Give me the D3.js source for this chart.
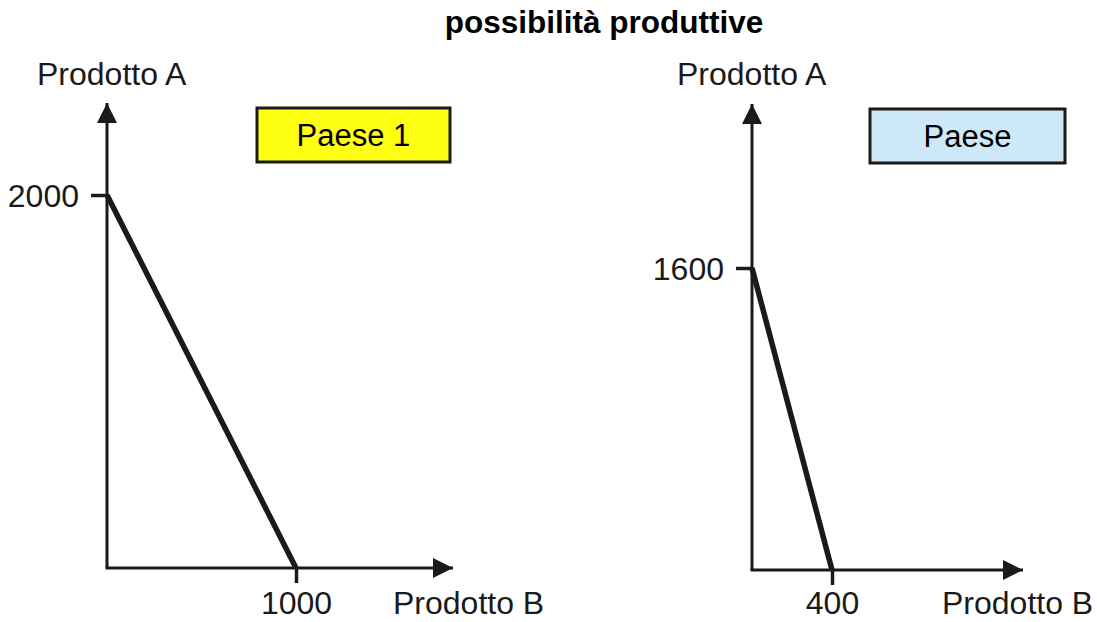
<!DOCTYPE html>
<html>
<head>
<meta charset="utf-8">
<script src="https://cdn.jsdelivr.net/npm/d3@7"></script>
<style>
  body { margin: 0; background: #fff; }
  svg { font-family: "Liberation Sans", Arial, sans-serif; }
</style>
</head>
<body>
<svg id="chart" width="1097" height="622"></svg>
<script>
// chart data
const title = "possibilità produttive";
const countries = ["Paese 1", "Paese"];
const maxA = [2000, 1600];   // intercept on Prodotto A axis
const maxB = [1000, 400];    // intercept on Prodotto B axis
const yLabel = "Prodotto A";
const xLabel = "Prodotto B";
const boxColors = ["#ffff14", "#cde8f8"];

const svg = d3.select("#chart");

svg.append("text")
  .attr("x", 604)
  .attr("y", 33)
  .attr("text-anchor", "middle")
  .attr("font-weight", "bold")
  .attr("font-size", 31.5)
  .text(title);

// layout per panel
const layout = [
  { x0: 107, y0: 568, xEnd: 453, yTop: 103, xPx: 189, yPx: 373, box: [257, 108, 193, 54], yLab: 37, xLab: 393 },
  { x0: 752, y0: 570, xEnd: 1023, yTop: 104, xPx: 80, yPx: 302, box: [870, 109, 195, 54], yLab: 677, xLab: 942 }
];
const bottomBaseline = 614;

svg.append("defs").append("marker")
  .attr("id", "arrow")
  .attr("viewBox", "0 0 10 10")
  .attr("refX", 10).attr("refY", 5)
  .attr("markerWidth", 20).attr("markerHeight", 20)
  .attr("markerUnits", "userSpaceOnUse")
  .attr("orient", "auto")
  .append("path")
  .attr("d", "M0,0 L10,5 L0,10 Z")
  .attr("fill", "#1a1a1a");

countries.forEach((name, i) => {
  const L = layout[i];
  const x = d3.scaleLinear().domain([0, maxB[i]]).range([L.x0, L.x0 + L.xPx]);
  const y = d3.scaleLinear().domain([0, maxA[i]]).range([L.y0, L.y0 - L.yPx]);
  const g = svg.append("g");

  // axes lines with arrows
  g.append("line")
    .attr("x1", L.x0).attr("y1", L.y0)
    .attr("x2", L.x0).attr("y2", L.yTop)
    .attr("stroke", "#1a1a1a").attr("stroke-width", 3)
    .attr("marker-end", "url(#arrow)");
  g.append("line")
    .attr("x1", L.x0 - 1.5).attr("y1", L.y0)
    .attr("x2", L.xEnd).attr("y2", L.y0)
    .attr("stroke", "#1a1a1a").attr("stroke-width", 3)
    .attr("marker-end", "url(#arrow)");

  // ticks
  const yAxis = g.append("g")
    .attr("transform", `translate(${L.x0},0)`)
    .call(d3.axisLeft(y).tickValues([maxA[i]]).tickFormat(d3.format("d"))
      .tickSize(16).tickSizeOuter(0).tickPadding(12));
  const xAxis = g.append("g")
    .attr("transform", `translate(0,${L.y0})`)
    .call(d3.axisBottom(x).tickValues([maxB[i]]).tickFormat(d3.format("d"))
      .tickSize(15).tickSizeOuter(0));
  [yAxis, xAxis].forEach(a => {
    a.select(".domain").remove();
    a.selectAll("line").attr("stroke", "#1a1a1a").attr("stroke-width", 3.5);
    a.selectAll("text")
      .attr("font-size", 32)
      .attr("fill", "#1a1a1a")
      .style("font-family", "Liberation Sans, Arial, sans-serif");
  });
  yAxis.selectAll("text").attr("dy", "0.35em");
  xAxis.selectAll("text").attr("y", bottomBaseline - L.y0).attr("dy", 0);

  // production possibility frontier
  const pts = [[0, maxA[i]], [maxB[i], 0]];
  g.append("path")
    .attr("d", d3.line().x(d => x(d[0])).y(d => y(d[1]))(pts))
    .attr("fill", "none")
    .attr("stroke", "#1a1a1a")
    .attr("stroke-width", 5.5);

  // axis labels
  g.append("text")
    .attr("x", L.yLab).attr("y", 85)
    .attr("font-size", 32).attr("fill", "#1a1a1a")
    .text(yLabel);
  g.append("text")
    .attr("x", L.xLab).attr("y", bottomBaseline)
    .attr("font-size", 32).attr("fill", "#1a1a1a")
    .text(xLabel);

  // country box
  const [bx, by, bw, bh] = L.box;
  g.append("rect")
    .attr("x", bx).attr("y", by).attr("width", bw).attr("height", bh)
    .attr("fill", boxColors[i])
    .attr("stroke", "#1a1a1a").attr("stroke-width", 3);
  g.append("text")
    .attr("x", bx + bw / 2).attr("y", by + bh / 2 + 11)
    .attr("text-anchor", "middle")
    .attr("font-size", 31).attr("fill", "#000")
    .text(name);
});
</script>
</body>
</html>
